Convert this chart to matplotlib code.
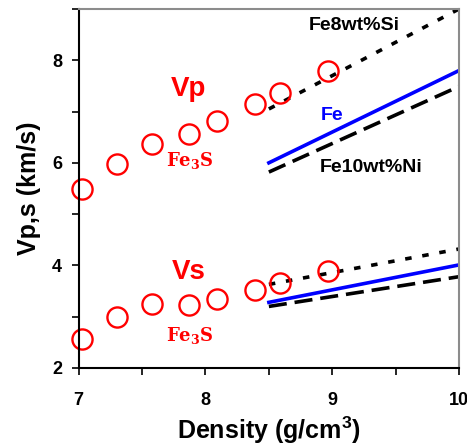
import matplotlib
matplotlib.use('agg')
import matplotlib.pyplot as plt
from matplotlib.ticker import MultipleLocator

plt.rcParams['font.family'] = ['Liberation Sans', 'DejaVu Sans']
plt.rcParams['font.weight'] = 'bold'
plt.rcParams['axes.labelweight'] = 'bold'

# Fe3S measurements
density = [7.03, 7.30, 7.58, 7.87, 8.09, 8.39, 8.59, 8.97]
vp = [5.48, 5.97, 6.36, 6.56, 6.81, 7.14, 7.37, 7.80]
vs = [2.56, 2.99, 3.24, 3.22, 3.35, 3.52, 3.65, 3.89]

# reference alloys (end points)
rho_line = [8.5, 10.0]
vp_si = [7.05, 9.0]
vp_fe = [6.0, 7.8]
vp_ni = [5.82, 7.49]
vs_si = [3.63, 4.32]
vs_fe = [3.28, 4.01]
vs_ni = [3.20, 3.78]

fig = plt.figure(figsize=(4.67, 4.48), dpi=100)
ax = fig.add_axes([0.1685, 0.1786, 0.8145, 0.8014])

dotted = dict(color='black', linewidth=2.6, dashes=(1.8, 3.0))
dashed = dict(color='black', linewidth=2.6, dashes=(5.0, 2.2))
solid = dict(color='#0000ff', linewidth=2.6)

ax.plot(rho_line, vp_si, **dotted)
ax.plot(rho_line, vp_ni, **dashed)
ax.plot(rho_line, vp_fe, **solid)
ax.plot(rho_line, vs_si, **dotted)
ax.plot(rho_line, vs_ni, **dashed)
ax.plot(rho_line, vs_fe, **solid)

for v in (vp, vs):
    ax.plot(density, v, 'o', markersize=14.5, markerfacecolor='none',
            markeredgecolor='#ff0000', markeredgewidth=1.7, linestyle='none',
            clip_on=False)

red = '#ff0000'
ax.text(7.87, 7.43, 'Vp', color=red, fontsize=20, ha='center', va='center')
ax.text(7.87, 3.88, 'Vs', color=red, fontsize=20, ha='center', va='center')
fe3s = r'Fe$_{\mathregular{3}}$S'
for yy in (6.05, 2.63):
    ax.text(7.88, yy, fe3s, color=red, fontsize=13, ha='center', va='center',
            family='DejaVu Serif')
ax.text(9.17, 8.67, 'Fe8wt%Si', color='black', fontsize=14, ha='center', va='center')
ax.text(9.0, 6.92, 'Fe', color='#0000ff', fontsize=14, ha='center', va='center')
ax.text(9.31, 5.91, 'Fe10wt%Ni', color='black', fontsize=14, ha='center', va='center')

ax.set_xlim(7, 10)
ax.set_ylim(2, 9)
ax.xaxis.set_major_locator(MultipleLocator(1))
ax.xaxis.set_minor_locator(MultipleLocator(0.5))
ax.yaxis.set_major_locator(MultipleLocator(2))
ax.yaxis.set_minor_locator(MultipleLocator(1))
ax.tick_params(which='both', direction='out', width=1.2, labelsize=13, length=5)
ax.tick_params(axis='x', pad=12)
ax.tick_params(axis='y', pad=7)

for side in ('left', 'bottom'):
    ax.spines[side].set_linewidth(1.5)
    ax.spines[side].set_color('black')
for side in ('top', 'right'):
    ax.spines[side].set_linewidth(1.5)
    ax.spines[side].set_color('#8c8c8c')

ax.set_xlabel('Density (g/cm$^{\\mathregular{3}}$)', fontsize=18, labelpad=4)
ax.set_ylabel('Vp,s (km/s)', fontsize=18, labelpad=8)

fig.savefig('out.png', dpi=100)
